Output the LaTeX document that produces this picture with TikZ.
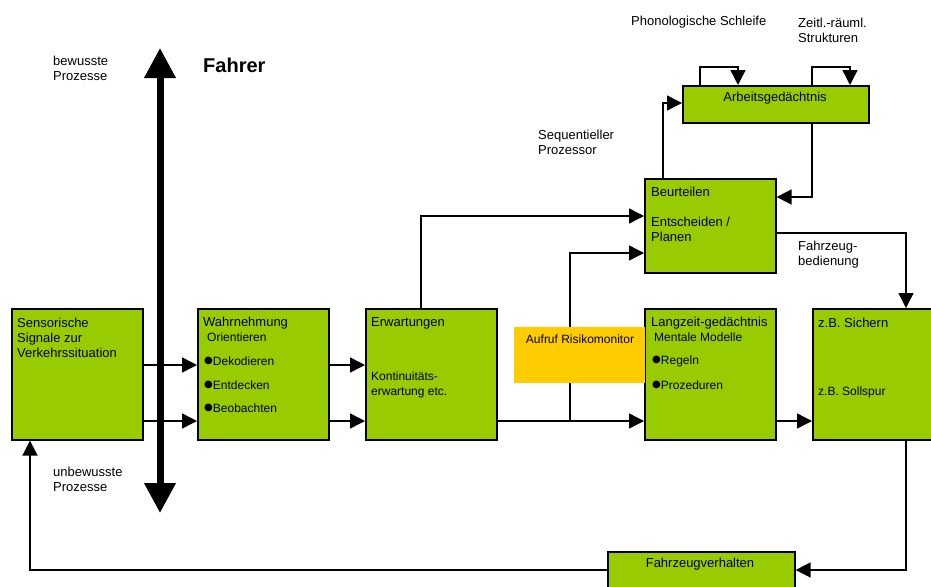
\documentclass[tikz,border=0pt]{standalone}
\usepackage{fontspec}
\setmainfont{Liberation Sans}
\newfontfamily\symfont{DejaVu Sans}
\usetikzlibrary{arrows.meta}
\definecolor{boxgreen}{HTML}{99CC00}
\definecolor{boxorange}{HTML}{FFCC00}
\newcommand{\bul}{\raisebox{1.5pt}{\symfont\fontsize{10}{10}\selectfont ●}}
\begin{document}
\begin{tikzpicture}[x=1pt,y=-1pt,
  box/.style={draw=black,fill=boxgreen,line width=1.6pt,inner sep=0pt,anchor=north west},
  obox/.style={draw=none,fill=boxorange,inner sep=0pt,anchor=north west},
  conn/.style={line width=1.5pt,-{Triangle[length=15pt,width=15pt]}},
  plain/.style={line width=1.5pt},
  bigarrow/.style={line width=7pt,{Triangle[length=30pt,width=30pt]}-{Triangle[length=30pt,width=30pt]}},
  txt/.style={inner sep=0pt,anchor=west,align=left,font=\fontsize{13}{15}\selectfont},
  stxt/.style={inner sep=0pt,anchor=west,align=left,font=\fontsize{12}{15}\selectfont},
  ctxt/.style={inner sep=0pt,anchor=center,font=\fontsize{13}{15}\selectfont},
]
\useasboundingbox (0,0) rectangle (931,586);

% boxes
\node[box,minimum width=131pt,minimum height=131pt] (sens) at (11,308) {};
\node[box,minimum width=131pt,minimum height=131pt] (wahr) at (197,308) {};
\node[box,minimum width=131pt,minimum height=131pt] (erw) at (365,308) {};
\node[box,minimum width=131pt,minimum height=131pt] (lang) at (644,308) {};
\node[box,minimum width=131pt,minimum height=131pt] (sich) at (812,308) {};
\node[box,minimum width=131pt,minimum height=94pt] (beur) at (644,178) {};
\node[box,minimum width=186pt,minimum height=37pt] (arb) at (682,85) {};
\node[box,minimum width=187pt,minimum height=50pt] (fzv) at (607,551) {};

% helper coordinates
\coordinate (y1) at (0,365);
\coordinate (y2) at (0,421);
\coordinate (yb1) at (0,216);
\coordinate (yb2) at (0,253);
\coordinate (xe) at (421,0);
\coordinate (xr) at (570,0);
\coordinate (loopy) at (0,67);
\coordinate (xl1) at (700,0);
\coordinate (xl2) at (738,0);
\coordinate (xl3) at (812,0);
\coordinate (xl4) at (850,0);
\coordinate (xb) at (663,0);
\coordinate (ya) at (0,103);
\coordinate (yab) at (0,197);
\coordinate (ybs) at (0,233);
\coordinate (xs) at (906,0);
\coordinate (yf) at (0,570);
\coordinate (xf) at (30,0);
\coordinate (btop) at (160,48);
\coordinate (bbot) at (160,513);

% connectors
\draw[conn] (sens.east |- y1) -- (wahr.west |- y1);
\draw[conn] (sens.east |- y2) -- (wahr.west |- y2);
\draw[conn] (wahr.east |- y1) -- (erw.west |- y1);
\draw[conn] (wahr.east |- y2) -- (erw.west |- y2);
\draw[conn] (erw.east |- y2) -- (lang.west |- y2);
\draw[conn] (xr |- y2) -- (xr |- yb2) -- (beur.west |- yb2);
\draw[conn] (erw.north -| xe) -- (xe |- yb1) -- (beur.west |- yb1);
\draw[conn] (lang.east |- y2) -- (sich.west |- y2);
\draw[conn] (beur.north -| xb) -- (xb |- ya) -- (arb.west |- ya);
\draw[conn] (arb.south -| xl3) -- (xl3 |- yab) -- (beur.east |- yab);
\draw[conn] (arb.north -| xl1) -- (xl1 |- loopy) -- (xl2 |- loopy) -- (arb.north -| xl2);
\draw[conn] (arb.north -| xl3) -- (xl3 |- loopy) -- (xl4 |- loopy) -- (arb.north -| xl4);
\draw[conn] (beur.east |- ybs) -- (xs |- ybs) -- (sich.north -| xs);
\draw[conn] (sich.south -| xs) -- (xs |- yf) -- (fzv.east |- yf);
\draw[conn] (fzv.west |- yf) -- (xf |- yf) -- (sens.south -| xf);
\draw[bigarrow] (bbot) -- (btop);

% orange box (drawn over the branch line)
\node[obox,minimum width=131pt,minimum height=56pt] (risk) at (514,327) {};

% texts
\node[txt] (t-sens) at (17,338) {Sensorische\\Signale zur\\Verkehrssituation};
\node[txt] (t-wahr) at (203,323) {Wahrnehmung};
\node[stxt] (t-orient) at (207,337) {Orientieren};
\node[stxt] (t-dek) at (204,361) {\bul Dekodieren};
\node[stxt] (t-ent) at (204,385) {\bul Entdecken};
\node[stxt] (t-beo) at (204,408) {\bul Beobachten};
\node[txt] (t-erw) at (371,323) {Erwartungen};
\node[stxt] (t-kont) at (371,385) {Kontinuitäts-\\erwartung etc.};
\node[inner sep=0pt,font=\fontsize{12}{15}\selectfont] (t-risk) at (580,339) {Aufruf Risikomonitor};
\node[txt] (t-lang) at (651,323) {Langzeit-gedächtnis};
\node[stxt] (t-ment) at (654,337) {Mentale Modelle};
\node[stxt] (t-reg) at (652,361) {\bul Regeln};
\node[stxt] (t-proz) at (652,385) {\bul Prozeduren};
\node[txt] (t-sich) at (818,323) {z.B. Sichern};
\node[stxt] (t-soll) at (818,392) {z.B. Sollspur};
\node[txt] (t-beur) at (651,192) {Beurteilen};
\node[txt] (t-ents) at (651,229.5) {Entscheiden /\\Planen};
\node[ctxt] (t-arb) at (775,98) {Arbeitsgedächtnis};
\node[ctxt] (t-fzv) at (700,564) {Fahrzeugverhalten};
\node[txt] (t-phon) at (631,22) {Phonologische Schleife};
\node[txt] (t-zeit) at (798,30) {Zeitl.-räuml.\\Strukturen};
\node[txt] (t-seq) at (538,142) {Sequentieller\\Prozessor};
\node[txt] (t-bed) at (798,254.5) {Fahrzeug-\\bedienung};
\node[txt] (t-bew) at (53,68.5) {bewusste\\Prozesse};
\node[txt] (t-unb) at (53,479) {unbewusste\\Prozesse};
\node[inner sep=0pt,anchor=west,font=\bfseries\fontsize{20}{24}\selectfont] (t-fahrer) at (203,65) {Fahrer};
\end{tikzpicture}
\end{document}
